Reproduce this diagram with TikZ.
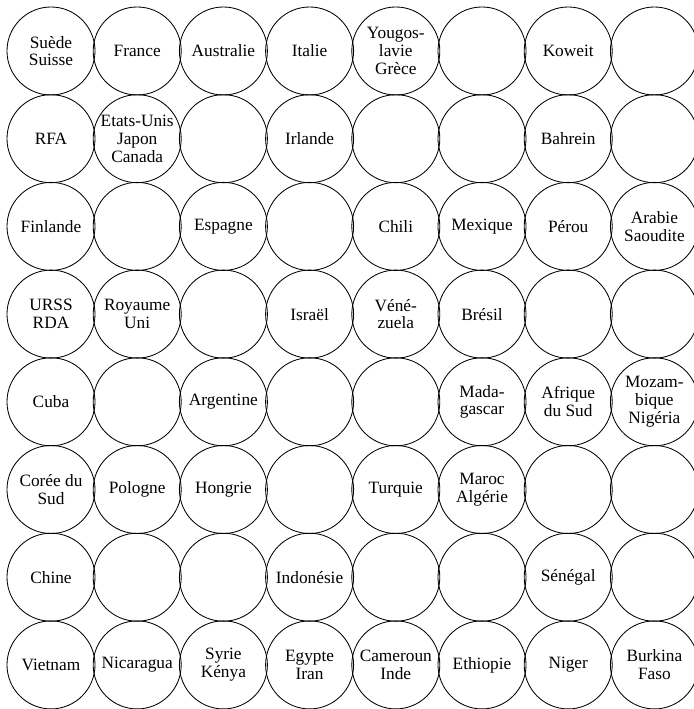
\documentclass[tikz,border=0pt]{standalone}
\usepackage{fontspec}
\setmainfont{Liberation Serif}
\usepackage{tikz}

\begin{document}
\begin{tikzpicture}[
  x=0.025cm, y=-0.025cm,
  pays/.style={circle, draw=black, line width=0.6pt, minimum size=2.2cm,
               inner sep=0pt, align=center,
               font=\fontsize{12.3}{12.6}\selectfont}
]
\useasboundingbox (0,0) rectangle (693,709);

% grille 8 x 8, ligne par ligne
\foreach \lab [count=\i from 0] in {
  {Suède\\Suisse}, France, Australie, Italie, {Yougos-\\lavie\\Grèce}, {}, Koweit, {},
  RFA, {Etats-Unis\\Japon\\Canada}, {}, Irlande, {}, {}, Bahrein, {},
  Finlande, {}, Espagne, {}, Chili, Mexique, Pérou, {Arabie\\Saoudite},
  {URSS\\RDA}, {Royaume\\Uni}, {}, Israël, {Vén\'e-\\zuela}, Brésil, {}, {},
  Cuba, {}, Argentine, {}, {}, {Mada-\\gascar}, {Afrique\\du Sud}, {Mozam-\\bique\\Nigéria},
  {Corée du\\Sud}, Pologne, Hongrie, {}, Turquie, {Maroc\\Algérie}, {}, {},
  Chine, {}, {}, Indonésie, {}, {}, Sénégal, {},
  Vietnam, Nicaragua, {Syrie\\Kénya}, {Egypte\\Iran}, {Cameroun\\Inde}, Ethiopie, Niger, {Burkina\\Faso}}
{
  \pgfmathtruncatemacro{\row}{\i/8}
  \pgfmathtruncatemacro{\col}{mod(\i,8)}
  \node[pays] (c\i) at (51+86.2*\col, 51+87.7*\row) {\lab};
}
\end{tikzpicture}
\end{document}
